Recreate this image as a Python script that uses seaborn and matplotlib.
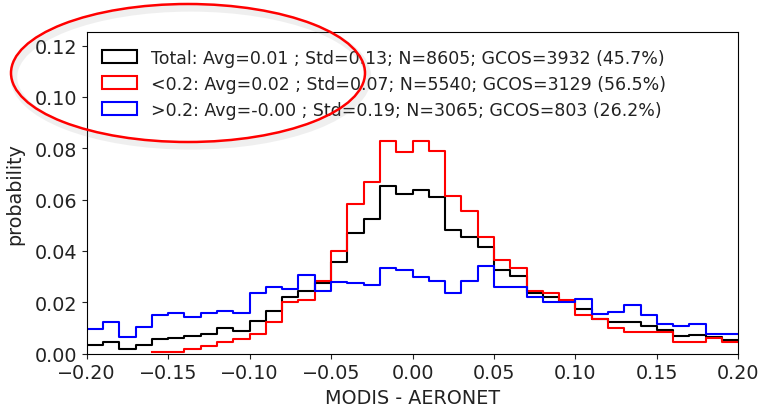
import numpy as np
import pandas as pd
import matplotlib
matplotlib.use("Agg")
import matplotlib.pyplot as plt
import matplotlib.patheffects as pe
from matplotlib.patches import Ellipse, Patch
import seaborn as sns

# Bin edges of the difference histogram (width 0.01)
edges = [round(-0.20 + 0.01 * i, 2) for i in range(41)]

# Probability per bin for each subset
total = [0.0034, 0.0045, 0.0018, 0.0034, 0.0057, 0.0062, 0.0070, 0.0077, 0.0099, 0.0089,
         0.0126, 0.0166, 0.0219, 0.0242, 0.0275, 0.0358, 0.0470, 0.0524, 0.0651, 0.0622,
         0.0638, 0.0609, 0.0481, 0.0456, 0.0417, 0.0326, 0.0303, 0.0236, 0.0222, 0.0203,
         0.0175, 0.0135, 0.0122, 0.0122, 0.0106, 0.0092, 0.0067, 0.0073, 0.0066, 0.0054]
low = [0.0, 0.0, 0.0, 0.0, 0.0004, 0.0004, 0.0018, 0.0029, 0.0044, 0.0058,
       0.0076, 0.0122, 0.0199, 0.0210, 0.0284, 0.0401, 0.0583, 0.0670, 0.0827, 0.0784,
       0.0827, 0.0788, 0.0615, 0.0557, 0.0456, 0.0365, 0.0334, 0.0242, 0.0235, 0.0210,
       0.0152, 0.0134, 0.0098, 0.0085, 0.0085, 0.0085, 0.0046, 0.0046, 0.0059, 0.0046]
high = [0.0096, 0.0122, 0.0065, 0.0104, 0.0149, 0.0159, 0.0142, 0.0159, 0.0165, 0.0159,
        0.0235, 0.0258, 0.0250, 0.0305, 0.0245, 0.0280, 0.0274, 0.0267, 0.0333, 0.0326,
        0.0300, 0.0281, 0.0236, 0.0281, 0.0342, 0.0258, 0.0258, 0.0219, 0.0199, 0.0199,
        0.0211, 0.0154, 0.0160, 0.0190, 0.0151, 0.0114, 0.0106, 0.0114, 0.0075, 0.0075]

series_names = ["Total", "<0.2", ">0.2"]
series_colors = ["black", "red", "blue"]
legend_labels = [
    "Total: Avg=0.01 ; Std=0.13; N=8605; GCOS=3932 (45.7%)",
    "<0.2: Avg=0.02 ; Std=0.07; N=5540; GCOS=3129 (56.5%)",
    ">0.2: Avg=-0.00 ; Std=0.19; N=3065; GCOS=803 (26.2%)",
]

edge_arr = np.array(edges)
centers = (edge_arr[:-1] + edge_arr[1:]) / 2

plt.rcParams["font.family"] = ["DejaVu Sans"]
fig = plt.figure(figsize=(7.61, 4.14), dpi=100)
ax = fig.add_axes([0.1139, 0.1437, 0.9702 - 0.1139, 0.9196 - 0.1437])

for name, vals, color in zip(series_names, [total, low, high], series_colors):
    vals = np.asarray(vals)
    # skip empty leading bins so the outline starts at the first populated bin
    first = int(np.argmax(vals > 0))
    df = pd.DataFrame({"diff": centers[first:], "prob": vals[first:]})
    sns.histplot(
        data=df, x="diff", weights="prob", bins=edges[first:],
        element="step", fill=False, stat="count",
        color=color, linewidth=1.5, ax=ax,
    )

ax.set_xlim(-0.2, 0.2)
ax.set_ylim(0, 0.1252)
ax.set_xticks(np.round(np.arange(-0.2, 0.2001, 0.05), 2))
ax.set_yticks(np.round(np.arange(0, 0.1201, 0.02), 2))
ax.tick_params(labelsize=13.8, colors="#222222")
ax.set_xlabel("MODIS - AERONET", fontsize=13.8, color="#222222")
ax.set_ylabel("probability", fontsize=13.8, color="#222222", labelpad=7)

handles = [Patch(facecolor="none", edgecolor=c, linewidth=1.5) for c in series_colors]
ax.legend(handles, legend_labels, loc="upper left", bbox_to_anchor=(0.0, 0.998),
          frameon=False, fontsize=12.5, handlelength=2.0, handleheight=0.75,
          labelspacing=0.46, handletextpad=0.8, labelcolor="#222222")

# Highlight around the legend and upper y-axis
ell = Ellipse((188, 414 - 74), width=354, height=138, transform=None,
              fill=False, edgecolor="red", linewidth=1.8, zorder=10)
ell.set_path_effects([
    pe.SimpleLineShadow(offset=(2, -3), shadow_color="gray", alpha=0.12, linewidth=5),
    pe.Normal(),
])
fig.patches.append(ell)

fig.savefig("out.png", dpi=100)
